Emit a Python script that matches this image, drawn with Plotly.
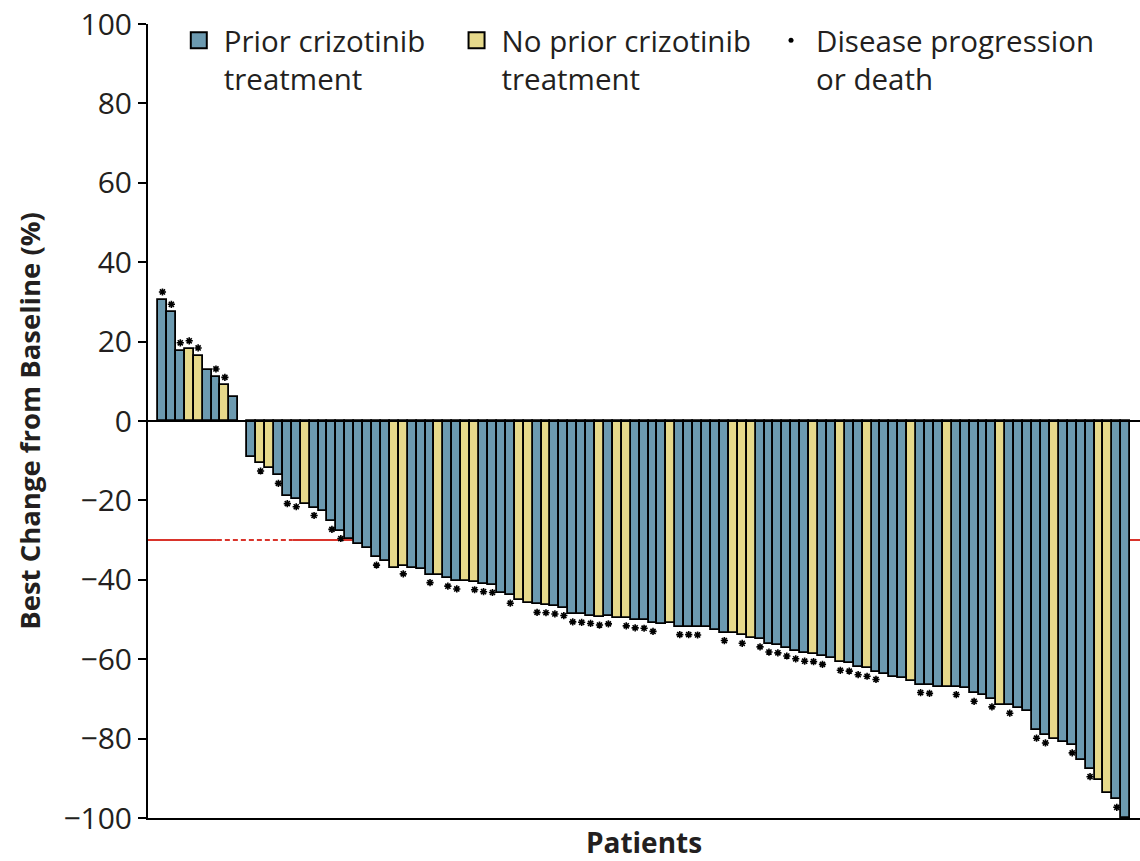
import plotly.graph_objects as go

# ---- data ----
# one entry per patient slot; None = patient with no measurable change (gap)
best_change = [
    30.5, 27.4, 17.7, 18.2, 16.4, 12.9, 11.1, 9.0, 6.1,
    None,
    -9.0, -10.6, -11.8, -13.7, -18.8, -19.6, -21.0, -21.8, -22.6, -25.3,
    -27.6, -29.6, -31.0, -32.0, -34.3, -35.3, -37.0, -36.5, -37.0, -37.2,
    -38.7, -38.8, -39.6, -40.3, -40.4, -40.5, -41.0, -41.2, -43.3, -43.9,
    -45.0, -45.8, -46.2, -46.3, -46.6, -47.0, -48.6, -48.7, -49.0, -49.4,
    -49.1, -49.5, -49.6, -50.1, -50.2, -51.0, -51.1, -51.0, -51.8, -51.8,
    -51.9, -52.0, -52.6, -53.3, -53.3, -54.0, -54.6, -54.9, -56.2, -56.4,
    -57.2, -57.9, -58.5, -58.6, -59.3, -59.6, -60.8, -61.0, -61.9, -62.3,
    -63.1, -63.8, -64.6, -64.8, -65.5, -66.4, -66.6, -66.9, -66.9, -66.9,
    -67.2, -68.6, -68.9, -70.0, -71.5, -71.6, -72.2, -73.1, -77.9, -79.1,
    -80.0, -80.8, -81.6, -85.4, -87.6, -90.5, -93.6, -95.3, -100.0,
]
# P = prior crizotinib treatment, N = no prior crizotinib treatment, - = gap
group = list(
    "PPPNNPPNP" "-"
    "PNNPPPNPPP" "PPPPPPNNPP" "PNPPNNPPPP" "NNPNPPPPPN" "PNNPPPPNPP"
    "PPPPNNNPPP" "PPPNPPNPPN" "PPPPNPPPNP" "PPPPNPPPPP" "NPPPPNNPP"
)
# 1 = disease progression or death
progression = [int(c) for c in (
    "111110110" "0"
    "0101110101" "1000100100" "1011011101" "0011111111" "1011110011"
    "1001010111" "1111101111" "1000011001" "0101010011" "001010011"
)]
response_threshold = -30
legend_labels = ["Prior crizotinib<br>treatment",
                 "No prior crizotinib<br>treatment",
                 "Disease progression<br>or death"]
y_ticks = [-100, -80, -60, -40, -20, 0, 20, 40, 60, 80, 100]

# ---- styles ----
BLUE = "#6c9ab0"
YELLOW = "#e6d98b"
INK = "#231f20"
RED = "#d9342b"
FONT = "Open Sans"

patients = list(range(1, len(best_change) + 1))
x_lo, x_hi = -0.62, 110.6

fig = go.Figure()

for code, color in (("P", BLUE), ("N", YELLOW)):
    fig.add_trace(go.Bar(
        x=patients,
        y=[v if g == code else None for v, g in zip(best_change, group)],
        marker=dict(color=color, line=dict(color="black", width=1.8)),
        width=1, showlegend=False, hoverinfo="x+y",
    ))

# progression markers just beyond the bar end
sx, sy = [], []
for x, v, p in zip(patients, best_change, progression):
    if p and v is not None:
        sx.append(x)
        sy.append(v + (2.0 if v > 0 else -2.0))
fig.add_trace(go.Scatter(
    x=sx, y=sy, mode="markers", showlegend=False, cliponaxis=False,
    marker=dict(symbol="asterisk-open", size=6, color="black",
                line=dict(color="black", width=1.6)),
))

# legend entries (one legend per entry so each can be placed)
legend_specs = [
    (legend_labels[0], "square", 16, BLUE, "legend", 0.026),
    (legend_labels[1], "square", 16, YELLOW, "legend2", 0.306),
    (legend_labels[2], "circle", 5, "black", "legend3", 0.623),
]
for label, sym, size, color, lg, _ in legend_specs:
    fig.add_trace(go.Scatter(
        x=[None], y=[None], mode="markers", name=label, legend=lg,
        marker=dict(symbol=sym, size=size, color=color,
                    line=dict(color="black", width=2 if sym == "square" else 0)),
    ))

leg_common = dict(yanchor="top", y=1.012, xanchor="left", valign="top",
                  bgcolor="rgba(0,0,0,0)", itemsizing="trace", itemwidth=40,
                  font=dict(family=FONT, size=29.5, color=INK))
legends = {}
for _, _, _, _, lg, xpos in legend_specs:
    legends[lg] = dict(x=xpos, **leg_common)

# response threshold line (partly dashed near the left)
dash_from, dash_to = 7.1, 15.6
for a, b, d in ((x_lo, dash_from, "solid"), (dash_from, dash_to, "5px,3px"),
                (dash_to, x_hi, "solid")):
    fig.add_shape(type="line", xref="x", yref="y", x0=a, x1=b,
                  y0=response_threshold, y1=response_threshold,
                  line=dict(color=RED, width=2, dash=d), layer="below")

# baseline (0 %) across the whole plot width
fig.add_shape(type="line", xref="x domain", yref="y", x0=0, x1=1, y0=0, y1=0,
              line=dict(color="black", width=2), layer="above")

fig.update_layout(
    width=1140, height=861,
    margin=dict(l=148, r=0, t=24, b=43, autoexpand=False),
    paper_bgcolor="white", plot_bgcolor="white",
    barmode="overlay", bargap=0,
    font=dict(family=FONT, color=INK),
    **legends,
)
fig.update_xaxes(
    range=[x_lo, x_hi], showgrid=False, zeroline=False,
    showline=True, linecolor="black", linewidth=2,
    showticklabels=False, ticks="",
    title=dict(text="Patients", standoff=19,
               font=dict(family=FONT, size=28, weight="bold", color=INK)),
)
fig.update_yaxes(
    range=[-100, 100], tickvals=y_ticks, showgrid=False,
    zeroline=False,
    showline=True, linecolor="black", linewidth=2,
    ticks="outside", ticklen=8, tickwidth=2, tickcolor="black",
    ticklabeloverflow="allow",
    tickfont=dict(family=FONT, size=30, color=INK),
    title=dict(text="Best Change from Baseline (%)", standoff=15,
               font=dict(family=FONT, size=27.5, weight="bold", color=INK)),
)

# remove the default 8px page margin so the figure fills the window exactly
fig.write_html("out.html",
               config=dict(displayModeBar=False),
               post_script="document.body.style.margin='0';"
                           "document.body.style.overflow='hidden';")
